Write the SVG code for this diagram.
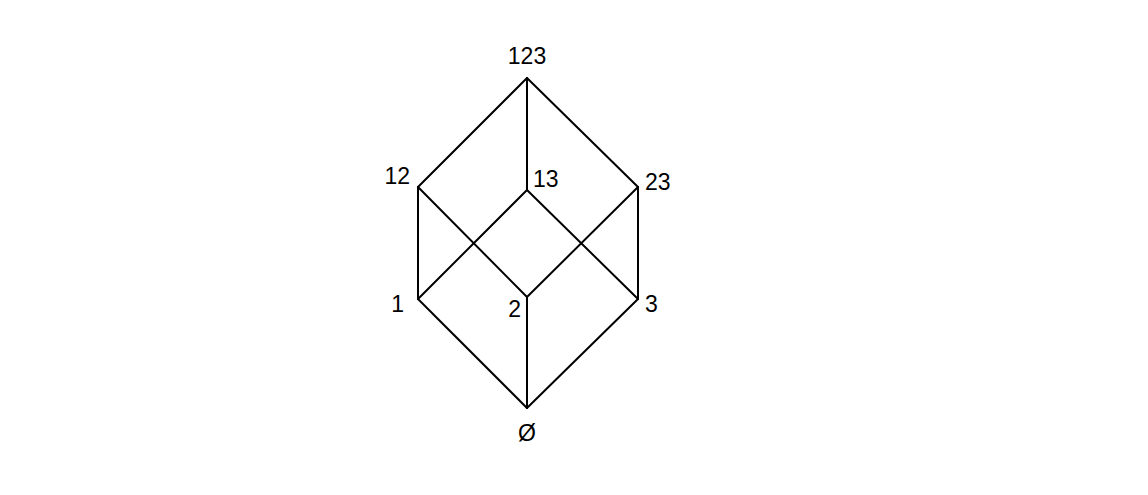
<svg xmlns="http://www.w3.org/2000/svg" width="1148" height="495" viewBox="0 0 1148 495">
<style>
.e{stroke:#000;stroke-width:2;fill:none;stroke-linecap:round}
.t{font-family:"Liberation Sans",Arial,sans-serif;font-size:23px;fill:#000}
</style>
<rect width="1148" height="495" fill="#fff"/>
<g id="connectors">
<line class="e" x1="527" y1="78" x2="418" y2="187"/>
<line class="e" x1="527" y1="78" x2="527" y2="190"/>
<line class="e" x1="527" y1="78" x2="638" y2="187"/>
<line class="e" x1="418" y1="187" x2="418" y2="299"/>
<line class="e" x1="418" y1="187" x2="527" y2="297"/>
<line class="e" x1="527" y1="190" x2="418" y2="299"/>
<line class="e" x1="527" y1="190" x2="638" y2="299"/>
<line class="e" x1="638" y1="187" x2="527" y2="297"/>
<line class="e" x1="638" y1="187" x2="638" y2="299"/>
<line class="e" x1="418" y1="299" x2="527" y2="408"/>
<line class="e" x1="527" y1="297" x2="527" y2="408"/>
<line class="e" x1="638" y1="299" x2="527" y2="408"/>
</g>
<g id="n123"><text class="t" x="527" y="64" text-anchor="middle">123</text></g>
<g id="n12"><text class="t" x="410" y="184" text-anchor="end">12</text></g>
<g id="n13"><text class="t" x="533" y="187">13</text></g>
<g id="n23"><text class="t" x="645" y="190">23</text></g>
<g id="n1"><text class="t" x="404" y="312" text-anchor="end">1</text></g>
<g id="n2"><text class="t" x="521" y="317" text-anchor="end">2</text></g>
<g id="n3"><text class="t" x="645" y="312">3</text></g>
<g id="nempty"><text class="t" x="527" y="441" text-anchor="middle">Ø</text></g>
</svg>
